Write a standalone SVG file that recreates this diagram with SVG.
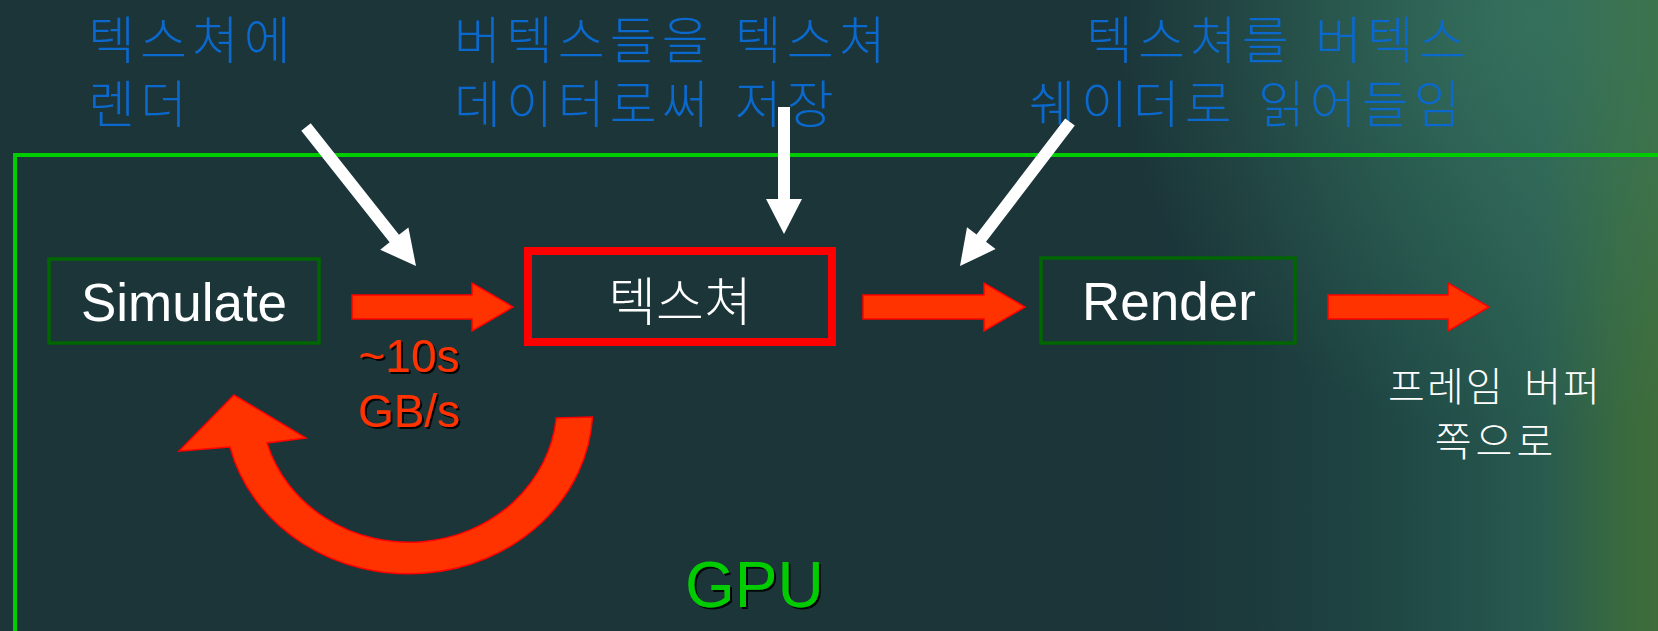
<svg xmlns="http://www.w3.org/2000/svg" width="1658" height="631" viewBox="0 0 1658 631">
  <defs>
    <linearGradient id="bgR" x1="0" y1="0" x2="1" y2="0">
      <stop offset="0" stop-color="#1b3539" stop-opacity="0"/>
      <stop offset="0.66" stop-color="#1b3539" stop-opacity="0"/>
      <stop offset="0.84" stop-color="#21504a" stop-opacity="0.7"/>
      <stop offset="0.93" stop-color="#2a5f52" stop-opacity="0.9"/>
      <stop offset="0.975" stop-color="#38693f" stop-opacity="1"/>
      <stop offset="1" stop-color="#3f6d3a" stop-opacity="1"/>
    </linearGradient>
    <radialGradient id="bgTR" cx="1530" cy="20" r="420" gradientUnits="userSpaceOnUse">
      <stop offset="0" stop-color="#3b7a62" stop-opacity="0.7"/>
      <stop offset="1" stop-color="#3b7a62" stop-opacity="0"/>
    </radialGradient>
    <filter id="sh" x="-10%" y="-10%" width="130%" height="130%">
      <feDropShadow dx="2" dy="2" stdDeviation="0.4" flood-color="#000" flood-opacity="0.9"/>
    </filter>
    <style>
      .blue { font-family: "Noto Sans CJK KR", "Noto Sans", sans-serif; font-size: 51px; fill: #0b68cc; letter-spacing: 5px; word-spacing: 5px; font-weight: 300; }
      .box { fill: none; stroke: #006600; stroke-width: 3.5; }
      .lbl { font-family: "Liberation Sans", Arial, sans-serif; font-size: 53px; fill: #ffffff; text-anchor: middle; }
      .kr { font-family: "Noto Sans CJK KR", "Noto Sans", sans-serif; fill: #ffffff; text-anchor: middle; font-weight: 300; }
      .red { fill: #ff3300; stroke: #ff0000; stroke-width: 1.5; stroke-linejoin: miter; }
      .wht { fill: #ffffff; }
      .rate { font-family: "Liberation Sans", Arial, sans-serif; font-size: 46px; fill: #ff3300; text-anchor: middle; }
    </style>
  </defs>

  <!-- background -->
  <rect x="0" y="0" width="1658" height="631" fill="#1b3539"/>
  <rect x="0" y="0" width="1658" height="631" fill="url(#bgR)"/>
  <rect x="0" y="0" width="1658" height="631" fill="url(#bgTR)"/>

  <!-- GPU frame -->
  <g id="gpu-frame">
    <path d="M15,631 V155 H1658" fill="none" stroke="#00cc00" stroke-width="4"/>
    <text x="685" y="607" font-family="Liberation Sans, Arial, sans-serif" font-size="64" fill="#00cc00" filter="url(#sh)">GPU</text>
  </g>

  <!-- annotations -->
  <g id="note-render-to-texture">
    <text class="blue" x="88" y="59">텍스쳐에</text>
    <text class="blue" x="88" y="123">렌더</text>
  </g>
  <g id="note-store-vertices">
    <text class="blue" x="454" y="59">버텍스들을 텍스쳐</text>
    <text class="blue" x="454" y="123">데이터로써 저장</text>
  </g>
  <g id="note-read-texture">
    <text class="blue" x="1086" y="59">텍스쳐를 버텍스</text>
    <text class="blue" x="1029" y="123">쉐이더로 읽어들임</text>
  </g>

  <!-- nodes -->
  <g id="simulate">
    <rect class="box" x="49" y="259" width="270" height="84"/>
    <text class="lbl" x="184" y="321">Simulate</text>
  </g>
  <g id="texture">
    <rect x="528" y="251" width="304" height="91" fill="none" stroke="#ff0000" stroke-width="8"/>
    <text class="kr" x="680" y="321" font-size="52">텍스쳐</text>
  </g>
  <g id="render">
    <rect class="box" x="1041" y="258" width="254" height="85"/>
    <text class="lbl" x="1169" y="320">Render</text>
  </g>
  <g id="framebuffer">
    <text class="kr" x="1495" y="401" font-size="40" style="letter-spacing:2px;word-spacing:9px">프레임 버퍼</text>
    <text class="kr" x="1496" y="456" font-size="40" style="letter-spacing:4px">쪽으로</text>
  </g>
  <g id="bandwidth">
    <text class="rate" x="409" y="372" filter="url(#sh)">~10s</text>
    <text class="rate" x="409" y="427" filter="url(#sh)">GB/s</text>
  </g>

  <!-- connectors -->
  <g id="connectors">
    <polygon class="red" points="352,295 472,295 472,283 513,307 472,331 472,319 352,319"/>
    <polygon class="red" points="863,295 984,295 984,283 1025,307 984,331 984,319 863,319"/>
    <polygon class="red" points="1328,295 1448,295 1448,283 1489,307 1448,331 1448,319 1328,319"/>
    <path class="red" d="M592.5,417 A184,166 0 0 1 230,447 L179,451 L234,395 L306,438 L267,443 A148,138 0 0 0 556.3,418 Z"/>
    <polygon class="wht" points="310.7,123.3 399.0,234.8 408.4,227.4 416,266 380.2,249.7 389.6,242.3 301.3,130.7"/>
    <polygon class="wht" points="778,107 790,107 790,199 802,199 784,234 766,199 778,199"/>
    <polygon class="wht" points="1065.2,118.4 976.5,234.6 967.0,227.3 960,266 995.6,249.1 986.0,241.8 1074.8,125.6"/>
  </g>
</svg>
